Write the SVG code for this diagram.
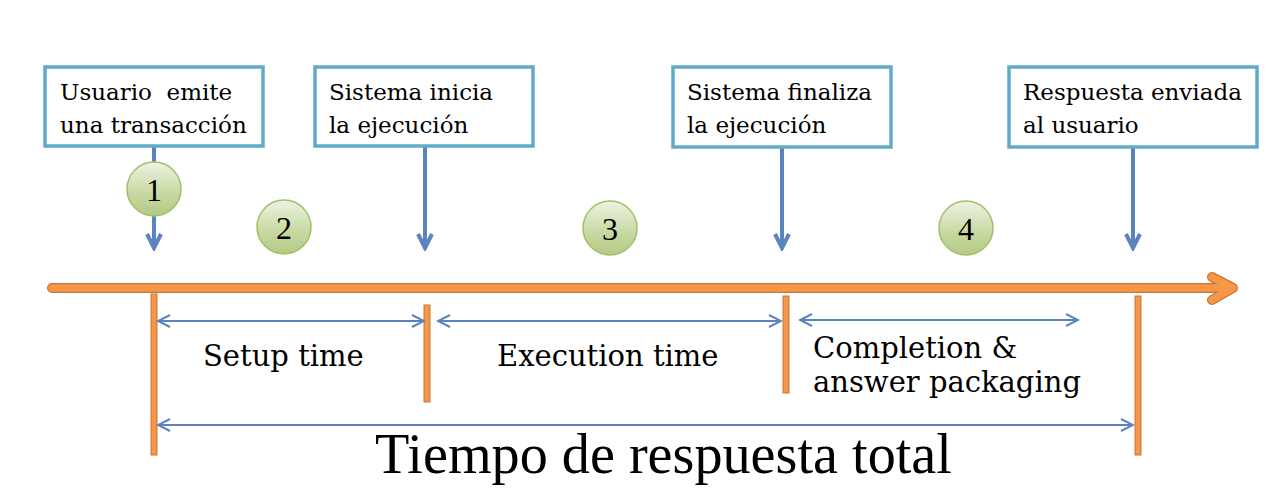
<svg xmlns="http://www.w3.org/2000/svg" width="1280" height="496" viewBox="0 0 1280 496">
<style>
.box{fill:#fff;stroke:#62abc7;stroke-width:3.5}
.bt{font-family:"DejaVu Serif",serif;font-size:23px;fill:#000}
.lbl{font-family:"DejaVu Serif",serif;font-size:29px;fill:#000}
.big{font-family:"Liberation Serif",serif;font-size:56.2px;fill:#000}
.num{font-family:"Liberation Serif",serif;font-size:32px;fill:#000;text-anchor:middle}
.down{stroke:#5b84bf;stroke-width:4;fill:none}
.dim{stroke:#5b84bf;stroke-width:2;fill:none}
.bar{fill:#f79646;stroke:#c4773c;stroke-width:1}
.circ{fill:url(#g);stroke:#a3bf6a;stroke-width:1.5}
</style>
<defs>
<linearGradient id="g" x1="0" y1="0" x2="0" y2="1">
<stop offset="0" stop-color="#eef3e3"/>
<stop offset="0.6" stop-color="#c6d8a0"/>
<stop offset="1" stop-color="#b3ca84"/>
</linearGradient>
<marker id="ah" viewBox="0 0 16 16" refX="14" refY="8" markerWidth="16" markerHeight="16" markerUnits="userSpaceOnUse" orient="auto-start-reverse">
<path d="M2,2 L14,8 L2,14" fill="none" stroke="#5b84bf" stroke-width="2"/>
</marker>
<marker id="dh" viewBox="0 0 20 20" refX="17" refY="10" markerWidth="20" markerHeight="20" markerUnits="userSpaceOnUse" orient="auto">
<path d="M3,3 L17,10 L3,17" fill="none" stroke="#5b84bf" stroke-width="4"/>
</marker>
</defs>

<g id="connectors">
<line class="down" x1="154" y1="147" x2="154" y2="248" marker-end="url(#dh)"/>
<line class="down" x1="425" y1="147" x2="425" y2="248" marker-end="url(#dh)"/>
<line class="down" x1="782" y1="147" x2="782" y2="248" marker-end="url(#dh)"/>
<line class="down" x1="1133" y1="147" x2="1133" y2="248" marker-end="url(#dh)"/>
<g id="timeline">
<path d="M52,288 L1231,288 M1212,277 L1233,288 L1212,300" fill="none" stroke="#c4773c" stroke-width="10" stroke-linecap="round" stroke-linejoin="round"/>
<path d="M52,288 L1231,288 M1212,277 L1233,288 L1212,300" fill="none" stroke="#f79646" stroke-width="7.5" stroke-linecap="round" stroke-linejoin="round"/>
</g>
<rect class="bar" x="151" y="294" width="6" height="161"/>
<rect class="bar" x="424" y="305" width="6" height="97"/>
<rect class="bar" x="783" y="296" width="6" height="97"/>
<rect class="bar" x="1135" y="296" width="6" height="159"/>
<line class="dim" x1="158" y1="321" x2="424" y2="321" marker-start="url(#ah)" marker-end="url(#ah)"/>
<line class="dim" x1="438" y1="321" x2="781" y2="321" marker-start="url(#ah)" marker-end="url(#ah)"/>
<line class="dim" x1="800" y1="320" x2="1078" y2="320" marker-start="url(#ah)" marker-end="url(#ah)"/>
<line class="dim" x1="158" y1="425" x2="1133" y2="425" marker-start="url(#ah)" marker-end="url(#ah)"/>
</g>

<g id="box1">
<rect class="box" x="45" y="67" width="218" height="79"/>
<text class="bt" x="60" y="100" xml:space="preserve">Usuario  emite</text>
<text class="bt" x="60" y="133">una transacción</text>
</g>
<g id="box2">
<rect class="box" x="315" y="67" width="218" height="79"/>
<text class="bt" x="329" y="100">Sistema inicia</text>
<text class="bt" x="329" y="133">la ejecución</text>
</g>
<g id="box3">
<rect class="box" x="673" y="67" width="218" height="80"/>
<text class="bt" x="687" y="100">Sistema finaliza</text>
<text class="bt" x="687" y="133">la ejecución</text>
</g>
<g id="box4">
<rect class="box" x="1009" y="67" width="248" height="80"/>
<text class="bt" x="1023" y="100">Respuesta enviada</text>
<text class="bt" x="1023" y="133">al usuario</text>
</g>

<g id="c1"><circle class="circ" cx="154" cy="189" r="27"/><text class="num" x="154" y="201">1</text></g>
<g id="c2"><circle class="circ" cx="284" cy="227" r="27"/><text class="num" x="284" y="239">2</text></g>
<g id="c3"><circle class="circ" cx="610" cy="228" r="27"/><text class="num" x="610" y="240">3</text></g>
<g id="c4"><circle class="circ" cx="966" cy="228" r="27"/><text class="num" x="966" y="240">4</text></g>

<g id="labels">
<text class="lbl" x="203" y="366">Setup time</text>
<text class="lbl" x="497" y="366">Execution time</text>
<text class="lbl" x="813" y="358">Completion &amp;</text>
<text class="lbl" x="813" y="392">answer packaging</text>
<text class="big" x="375" y="473">Tiempo de respuesta total</text>
</g>
</svg>
